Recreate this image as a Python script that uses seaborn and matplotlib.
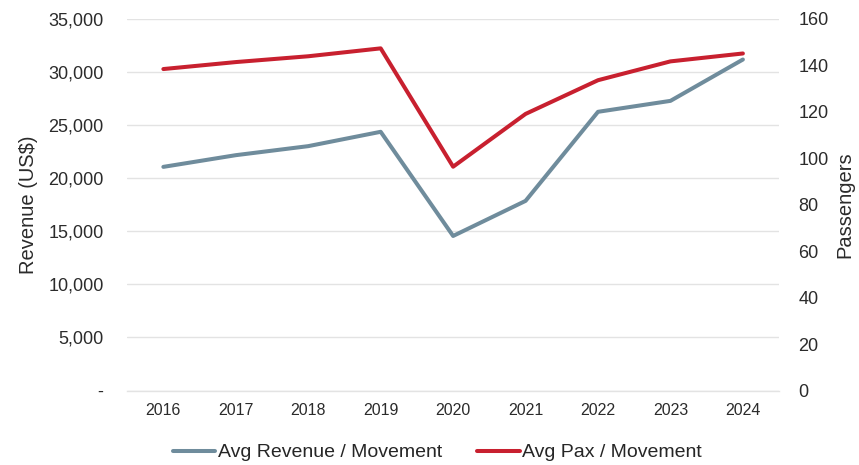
import matplotlib
matplotlib.use("Agg")
import matplotlib.pyplot as plt
from matplotlib.ticker import FuncFormatter, MultipleLocator
from matplotlib.lines import Line2D
import seaborn as sns
import pandas as pd

years = ["2016", "2017", "2018", "2019", "2020", "2021", "2022", "2023", "2024"]
avg_revenue = [21050, 22150, 23000, 24350, 14550, 17850, 26230, 27260, 31150]
avg_pax = [138.3, 141.3, 143.8, 147.2, 96.3, 119.0, 133.5, 141.6, 145.0]

rev_label = "Avg Revenue / Movement"
pax_label = "Avg Pax / Movement"
rev_color = "#6F8C9C"
pax_color = "#C8202F"

sns.set_theme(style="white")
plt.rcParams['font.family'] = ['Liberation Sans', 'DejaVu Sans']

df = pd.DataFrame({"Year": years, "Revenue": avg_revenue, "Pax": avg_pax})

fig = plt.figure(figsize=(8.59, 4.65), dpi=100)
ax = fig.add_axes([0.148, 0.160, 0.759, 0.800])
ax2 = ax.twinx()

sns.lineplot(data=df, x="Year", y="Revenue", ax=ax, color=rev_color, linewidth=2.9, sort=False)
sns.lineplot(data=df, x="Year", y="Pax", ax=ax2, color=pax_color, linewidth=2.9, sort=False)

ax.set_xlim(-0.5, len(years) - 0.5)
ax.set_ylim(0, 35000)
ax2.set_ylim(0, 160)
ax.yaxis.set_major_locator(MultipleLocator(5000))
ax2.yaxis.set_major_locator(MultipleLocator(20))
ax.yaxis.set_major_formatter(FuncFormatter(lambda v, p: "-" if v == 0 else f"{int(v):,}"))

ax.grid(axis="y", color="#E3E3E3", linewidth=1.0)
ax.set_axisbelow(True)
for a in (ax, ax2):
    for s in a.spines.values():
        s.set_visible(False)
    a.tick_params(length=0)
ax.spines["bottom"].set_visible(True)
ax.spines["bottom"].set_color("#E3E3E3")
ax.spines["bottom"].set_linewidth(1.0)

tc = "#2B2B2B"
ax.tick_params(axis="y", labelsize=13, colors=tc, pad=17)
ax2.tick_params(axis="y", labelsize=13, colors=tc, pad=14)
ax.tick_params(axis="x", labelsize=11.5, colors=tc, pad=9)

ax.set_xlabel("")
ax.set_ylabel("Revenue (US$)", fontsize=14.5, color=tc, labelpad=7)
ax2.set_ylabel("Passengers", fontsize=14.5, color=tc, labelpad=5)

handles = [Line2D([0], [0], color=rev_color, linewidth=2.9),
           Line2D([0], [0], color=pax_color, linewidth=2.9)]
fig.legend(handles, [rev_label, pax_label], loc="lower center", bbox_to_anchor=(0.509, -0.03),
           ncol=2, frameon=False, fontsize=14, handlelength=2.2, handletextpad=0.12,
           columnspacing=1.8)

fig.savefig("out.png", dpi=100)
